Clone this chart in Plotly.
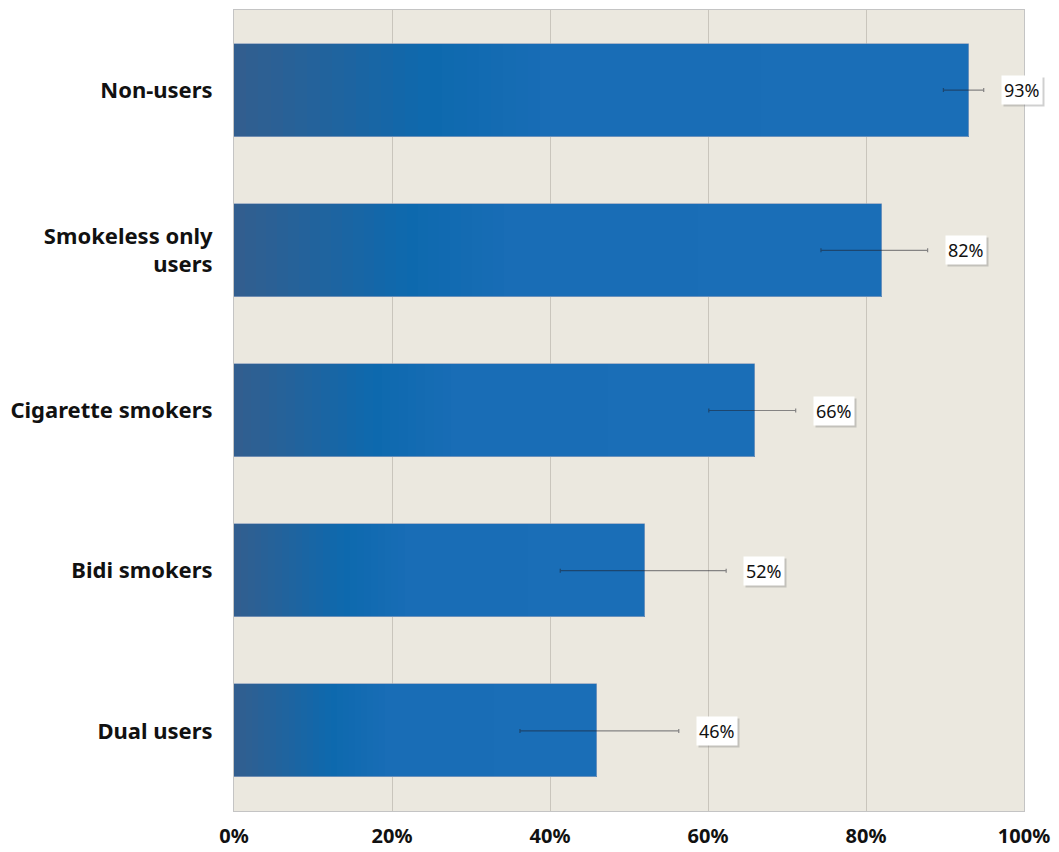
import plotly.graph_objects as go

# Share of each group (percent) with confidence-interval bounds
categories = ["Non-users", "Smokeless only<br>users", "Cigarette smokers", "Bidi smokers", "Dual users"]
values = [93, 82, 66, 52, 46]
ci_low = [89.8, 74.3, 60.1, 41.3, 36.2]
ci_high = [94.9, 87.8, 71.1, 62.3, 56.3]
value_labels = ["93%", "82%", "66%", "52%", "46%"]
x_ticks = [0, 20, 40, 60, 80, 100]
x_tick_labels = ["0%", "20%", "40%", "60%", "80%", "100%"]

# Horizontal gradient along each bar: (position along bar, rgb)
gradient_stops = [
    (0.00, (51, 94, 142)),
    (0.27, (13, 105, 174)),
    (0.43, (25, 109, 182)),
    (1.00, (26, 110, 183)),
]
N_SEG = 60
BAR_WIDTH = 0.58


def gradient_color(t):
    for (t0, c0), (t1, c1) in zip(gradient_stops[:-1], gradient_stops[1:]):
        if t0 <= t <= t1:
            f = (t - t0) / (t1 - t0) if t1 > t0 else 0
            r, g, b = (round(a + (bb - a) * f) for a, bb in zip(c0, c1))
            return f"rgb({r},{g},{b})"
    r, g, b = gradient_stops[-1][1]
    return f"rgb({r},{g},{b})"


fig = go.Figure()

# Bars built from thin overlapping slices so the fill shades from left to right
for i in range(N_SEG):
    starts = [v * i / N_SEG for v in values]
    ends = [min(v, v * (i + 1.6) / N_SEG) for v in values]
    fig.add_trace(go.Bar(
        y=categories,
        x=[e - s for s, e in zip(starts, ends)],
        base=starts,
        orientation="h",
        width=BAR_WIDTH,
        marker=dict(color=gradient_color((i + 0.5) / N_SEG), line=dict(width=0)),
        showlegend=False,
        hoverinfo="skip",
    ))

# Thin outline around each full bar
fig.add_trace(go.Bar(
    y=categories,
    x=values,
    base=[0] * len(values),
    orientation="h",
    width=BAR_WIDTH,
    marker=dict(color="rgba(0,0,0,0)", line=dict(color="rgba(140,160,190,0.7)", width=1)),
    showlegend=False,
    hoverinfo="skip",
))

# Confidence intervals
fig.add_trace(go.Scatter(
    y=categories,
    x=values,
    mode="markers",
    marker=dict(size=1, color="rgba(0,0,0,0)"),
    error_x=dict(
        type="data",
        symmetric=False,
        array=[h - v for h, v in zip(ci_high, values)],
        arrayminus=[v - l for l, v in zip(ci_low, values)],
        color="rgba(30,30,40,0.5)",
        thickness=1.2,
        width=2,
    ),
    showlegend=False,
    hoverinfo="skip",
))

# Value labels in white boxes with a soft drop shadow
annotations = []
for cat, hi, lab in zip(categories, ci_high, value_labels):
    annotations.append(dict(
        x=hi, y=cat, xref="x", yref="y", text=lab, showarrow=False,
        xanchor="left", yanchor="middle", xshift=19, yshift=-2,
        font=dict(family="Noto Sans", size=18, color="rgba(0,0,0,0)"),
        bgcolor="rgba(120,120,120,0.35)", borderpad=2,
    ))
    annotations.append(dict(
        x=hi, y=cat, xref="x", yref="y", text=lab, showarrow=False,
        xanchor="left", yanchor="middle", xshift=17, yshift=0,
        font=dict(family="Noto Sans", size=18, color="#111111"),
        bgcolor="white", borderpad=2,
    ))

fig.update_layout(
    width=1059,
    height=852,
    barmode="overlay",
    paper_bgcolor="white",
    plot_bgcolor="#EBE8DF",
    margin=dict(l=234, r=35, t=10, b=41),
    annotations=annotations,
    bargap=0,
)

fig.update_xaxes(
    range=[0, 100],
    tickvals=x_ticks,
    ticktext=x_tick_labels,
    tickfont=dict(family="Noto Sans", size=20, color="#111111", weight="bold"),
    showgrid=True,
    gridcolor="#C9C5BC",
    gridwidth=1,
    zeroline=False,
    showline=True,
    mirror=True,
    linecolor="#C4C4C4",
    linewidth=1,
    ticks="",
    ticklabelstandoff=7,
    automargin=False,
)

fig.update_yaxes(
    categoryorder="array",
    categoryarray=categories[::-1],
    range=[-0.5, 4.5],
    tickfont=dict(family="Noto Sans", size=22, color="#111111", weight="bold"),
    showgrid=False,
    zeroline=False,
    showline=True,
    mirror=True,
    linecolor="#C4C4C4",
    linewidth=1,
    ticks="",
    ticklabelstandoff=16,
    automargin=False,
)

fig.write_html("out.html")
